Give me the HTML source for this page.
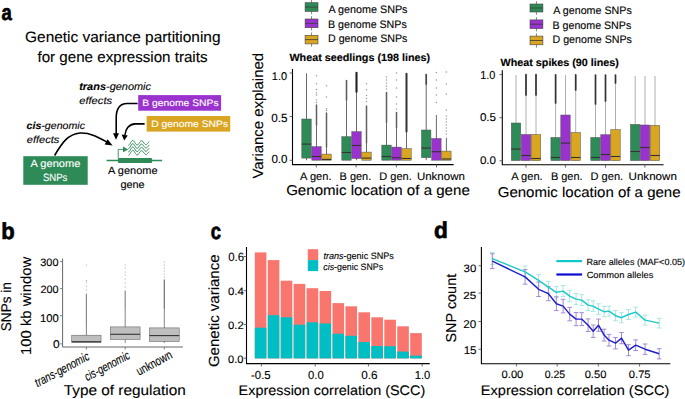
<!DOCTYPE html>
<html><head><meta charset="utf-8"><style>
html,body{margin:0;padding:0;background:#fff;width:685px;height:399px;overflow:hidden}
svg{display:block}
svg text{font-family:"Liberation Sans", sans-serif;text-rendering:geometricPrecision}
</style></head><body>
<svg width="685" height="399" viewBox="0 0 685 399">
<rect width="685" height="399" fill="#fff"/>
<text x="1.62" y="20.07" font-size="22.13" font-weight="bold" stroke="#000" stroke-width="0.7" textLength="10.28" lengthAdjust="spacingAndGlyphs">a</text>
<text x="25.12" y="42.20" font-size="15.00" stroke="#000" stroke-width="0.12" textLength="195.41" lengthAdjust="spacingAndGlyphs">Genetic variance partitioning</text>
<text x="37.48" y="62.20" font-size="15.00" stroke="#000" stroke-width="0.12" textLength="170.05" lengthAdjust="spacingAndGlyphs">for gene expression traits</text>
<text x="79.22" y="89.60" font-size="10.60" font-style="italic" stroke="#000" stroke-width="0.12" textLength="71.80" lengthAdjust="spacingAndGlyphs"><tspan font-weight="bold">trans</tspan>-genomic</text>
<text x="79.20" y="103.60" font-size="10.20" font-style="italic" stroke="#000" stroke-width="0.12" textLength="32.90" lengthAdjust="spacingAndGlyphs">effects</text>
<text x="26.57" y="129.30" font-size="10.20" font-style="italic" stroke="#000" stroke-width="0.12" textLength="58.45" lengthAdjust="spacingAndGlyphs"><tspan font-weight="bold">cis</tspan>-genomic</text>
<text x="26.77" y="143.40" font-size="10.20" font-style="italic" stroke="#000" stroke-width="0.12" textLength="32.59" lengthAdjust="spacingAndGlyphs">effects</text>
<text x="108.03" y="173.80" font-size="10.60" stroke="#000" stroke-width="0.12" textLength="49.50" lengthAdjust="spacingAndGlyphs">A genome</text>
<text x="120.40" y="187.50" font-size="10.60" stroke="#000" stroke-width="0.12" textLength="24.31" lengthAdjust="spacingAndGlyphs">gene</text>
<rect x="138.2" y="95.1" width="82.9" height="15.6" fill="#9a32cd"/>
<rect x="146.7" y="116" width="83.5" height="15.6" fill="#daa520"/>
<rect x="23.3" y="156.2" width="64.4" height="28.6" fill="#2e8b57"/>
<text x="142.30" y="105.80" font-size="9.50" fill="#fff" stroke="#fff" stroke-width="0.12" textLength="76.30" lengthAdjust="spacingAndGlyphs">B genome SNPs</text>
<text x="151.30" y="127.20" font-size="9.50" fill="#fff" stroke="#fff" stroke-width="0.12" textLength="76.75" lengthAdjust="spacingAndGlyphs">D genome SNPs</text>
<text x="30.55" y="166.60" font-size="10.60" fill="#fff" stroke="#fff" stroke-width="0.12" textLength="49.75" lengthAdjust="spacingAndGlyphs">A genome</text>
<text x="42.88" y="180.80" font-size="10.60" fill="#fff" stroke="#fff" stroke-width="0.12" textLength="24.40" lengthAdjust="spacingAndGlyphs">SNPs</text>
<line x1="106.6" y1="160.5" x2="162.1" y2="160.5" stroke="#2e8b57" stroke-width="1.3"/>
<rect x="117.9" y="157.9" width="34.2" height="5" rx="0.8" fill="#2e8b57"/>
<path d="M118.2 158 V149.4 H123.5" fill="none" stroke="#2e8b57" stroke-width="0.9"/>
<path d="M123 146.6 L128.2 149.4 L123 152.2 Z" fill="#2e8b57"/>
<polyline points="128.3,145.39 128.9,145.21 129.5,144.60 130.1,143.68 130.7,142.62 131.3,141.62 131.9,140.84 132.5,140.44 133.1,140.46 133.7,140.90 134.3,141.68 134.9,142.63 135.5,143.60 136.1,144.40 136.7,144.90 137.3,145.01 137.9,144.72 138.5,144.10 139.1,143.25 139.7,142.35 140.3,141.55 140.9,140.99 141.5,140.77 142.1,140.92 142.7,141.40 143.3,142.12 143.9,142.94 144.5,143.71 145.1,144.31 145.7,144.61 146.3,144.59 146.9,144.24 147.5,143.65 148.1,142.92 148.7,142.20 149.3,141.60" fill="none" stroke="#2e8b57" stroke-width="1.0" stroke-linejoin="round"/>
<polyline points="128.3,148.69 128.9,148.51 129.5,147.90 130.1,146.98 130.7,145.92 131.3,144.92 131.9,144.14 132.5,143.74 133.1,143.76 133.7,144.20 134.3,144.98 134.9,145.93 135.5,146.90 136.1,147.70 136.7,148.20 137.3,148.31 137.9,148.02 138.5,147.40 139.1,146.55 139.7,145.65 140.3,144.85 140.9,144.29 141.5,144.07 142.1,144.22 142.7,144.70 143.3,145.42 143.9,146.24 144.5,147.01 145.1,147.61 145.7,147.91 146.3,147.89 146.9,147.54 147.5,146.95 148.1,146.22 148.7,145.50 149.3,144.90" fill="none" stroke="#2e8b57" stroke-width="1.0" stroke-linejoin="round"/>
<polyline points="128.3,151.99 128.9,151.81 129.5,151.20 130.1,150.28 130.7,149.22 131.3,148.22 131.9,147.44 132.5,147.04 133.1,147.06 133.7,147.50 134.3,148.28 134.9,149.23 135.5,150.20 136.1,151.00 136.7,151.50 137.3,151.61 137.9,151.32 138.5,150.70 139.1,149.85 139.7,148.95 140.3,148.15 140.9,147.59 141.5,147.37 142.1,147.52 142.7,148.00 143.3,148.72 143.9,149.54 144.5,150.31 145.1,150.91 145.7,151.21 146.3,151.19 146.9,150.84 147.5,150.25 148.1,149.52 148.7,148.80 149.3,148.20" fill="none" stroke="#2e8b57" stroke-width="1.0" stroke-linejoin="round"/>
<polyline points="128.3,155.29 128.9,155.11 129.5,154.50 130.1,153.58 130.7,152.52 131.3,151.52 131.9,150.74 132.5,150.34 133.1,150.36 133.7,150.80 134.3,151.58 134.9,152.53 135.5,153.50 136.1,154.30 136.7,154.80 137.3,154.91 137.9,154.62 138.5,154.00 139.1,153.15 139.7,152.25 140.3,151.45 140.9,150.89 141.5,150.67 142.1,150.82 142.7,151.30 143.3,152.02 143.9,152.84 144.5,153.61 145.1,154.21 145.7,154.51 146.3,154.49 146.9,154.14 147.5,153.55 148.1,152.82 148.7,152.10 149.3,151.50" fill="none" stroke="#2e8b57" stroke-width="1.0" stroke-linejoin="round"/>
<path d="M54.6 155.5 C62 143 68 134 80 133 C90 132.5 98 137 107 142" fill="none" stroke="#000" stroke-width="1.6"/>
<path d="M112.6 145.6 L104.6 144.6 L107.6 139.2 Z" fill="#000"/>
<path d="M137.6 103.5 H127 C119 103.8 116.2 110 116.2 118 V134" fill="none" stroke="#000" stroke-width="1.6"/>
<path d="M116 139.8 L113 133.2 L119 133.2 Z" fill="#000"/>
<path d="M144.6 123.9 H135 C129 124.2 125.4 129 125 135" fill="none" stroke="#000" stroke-width="1.6"/>
<path d="M124.2 140.4 L121.6 134.6 L127.8 135.4 Z" fill="#000"/>
<line x1="311.55" y1="-0.09999999999999964" x2="311.55" y2="14.2" stroke="#555" stroke-width="0.7"/>
<rect x="305.1" y="2.7" width="12.9" height="8.7" fill="#2e8b57" stroke="#444" stroke-width="0.6"/>
<line x1="305.1" y1="7.1" x2="318" y2="7.1" stroke="#3a3a3a" stroke-width="0.8"/>
<line x1="311.55" y1="16.2" x2="311.55" y2="30.5" stroke="#555" stroke-width="0.7"/>
<rect x="305.1" y="19.0" width="12.9" height="8.7" fill="#9a32cd" stroke="#444" stroke-width="0.6"/>
<line x1="305.1" y1="23.4" x2="318" y2="23.4" stroke="#3a3a3a" stroke-width="0.8"/>
<line x1="311.55" y1="32.5" x2="311.55" y2="46.699999999999996" stroke="#555" stroke-width="0.7"/>
<rect x="305.1" y="35.3" width="12.9" height="8.6" fill="#daa520" stroke="#444" stroke-width="0.6"/>
<line x1="305.1" y1="39.6" x2="318" y2="39.6" stroke="#3a3a3a" stroke-width="0.8"/>
<line x1="536.45" y1="1.2000000000000002" x2="536.45" y2="14.8" stroke="#555" stroke-width="0.7"/>
<rect x="530" y="4.0" width="12.9" height="8.0" fill="#2e8b57" stroke="#444" stroke-width="0.6"/>
<line x1="530" y1="8.0" x2="542.9" y2="8.0" stroke="#3a3a3a" stroke-width="0.8"/>
<line x1="536.45" y1="17.099999999999998" x2="536.45" y2="31.400000000000002" stroke="#555" stroke-width="0.7"/>
<rect x="530" y="19.9" width="12.9" height="8.7" fill="#9a32cd" stroke="#444" stroke-width="0.6"/>
<line x1="530" y1="24.2" x2="542.9" y2="24.2" stroke="#3a3a3a" stroke-width="0.8"/>
<line x1="536.45" y1="33.300000000000004" x2="536.45" y2="47.599999999999994" stroke="#555" stroke-width="0.7"/>
<rect x="530" y="36.1" width="12.9" height="8.7" fill="#daa520" stroke="#444" stroke-width="0.6"/>
<line x1="530" y1="40.5" x2="542.9" y2="40.5" stroke="#3a3a3a" stroke-width="0.8"/>
<text x="328.52" y="12.90" font-size="10.90" stroke="#000" stroke-width="0.12" textLength="78.95" lengthAdjust="spacingAndGlyphs">A genome SNPs</text>
<text x="328.00" y="27.60" font-size="10.90" stroke="#000" stroke-width="0.12" textLength="78.75" lengthAdjust="spacingAndGlyphs">B genome SNPs</text>
<text x="328.02" y="42.00" font-size="10.90" stroke="#000" stroke-width="0.12" textLength="79.41" lengthAdjust="spacingAndGlyphs">D genome SNPs</text>
<text x="553.35" y="14.00" font-size="10.90" stroke="#000" stroke-width="0.12" textLength="78.40" lengthAdjust="spacingAndGlyphs">A genome SNPs</text>
<text x="552.50" y="28.60" font-size="10.90" stroke="#000" stroke-width="0.12" textLength="78.75" lengthAdjust="spacingAndGlyphs">B genome SNPs</text>
<text x="552.52" y="42.90" font-size="10.90" stroke="#000" stroke-width="0.12" textLength="79.41" lengthAdjust="spacingAndGlyphs">D genome SNPs</text>
<path d="M292.5 69 V164.6 H453.6" fill="none" stroke="#000" stroke-width="1.1"/>
<line x1="289.7" y1="73.0" x2="292.5" y2="73.0" stroke="#555" stroke-width="0.9"/>
<line x1="289.7" y1="116.5" x2="292.5" y2="116.5" stroke="#555" stroke-width="0.9"/>
<line x1="289.7" y1="160.3" x2="292.5" y2="160.3" stroke="#555" stroke-width="0.9"/>
<line x1="316.3" y1="164.6" x2="316.3" y2="167.4" stroke="#555" stroke-width="0.9"/>
<line x1="356.1" y1="164.6" x2="356.1" y2="167.4" stroke="#555" stroke-width="0.9"/>
<line x1="396.4" y1="164.6" x2="396.4" y2="167.4" stroke="#555" stroke-width="0.9"/>
<line x1="436.5" y1="164.6" x2="436.5" y2="167.4" stroke="#555" stroke-width="0.9"/>
<text x="289.43" y="60.70" font-size="10.50" font-weight="bold" stroke="#000" stroke-width="0.15" textLength="140.70" lengthAdjust="spacingAndGlyphs">Wheat seedlings (198 lines)</text>
<text x="271.80" y="80.03" font-size="11.37" stroke="#000" stroke-width="0.12" textLength="15.27" lengthAdjust="spacingAndGlyphs">1.0</text>
<text x="271.23" y="121.75" font-size="11.80" stroke="#000" stroke-width="0.12" textLength="16.31" lengthAdjust="spacingAndGlyphs">0.5</text>
<text x="271.38" y="162.75" font-size="11.80" stroke="#000" stroke-width="0.12" textLength="16.20" lengthAdjust="spacingAndGlyphs">0.0</text>
<text x="300.00" y="180.00" font-size="11.00" stroke="#000" stroke-width="0.12" textLength="31.50" lengthAdjust="spacingAndGlyphs">A gen.</text>
<text x="339.55" y="180.00" font-size="11.00" stroke="#000" stroke-width="0.12" textLength="31.65" lengthAdjust="spacingAndGlyphs">B gen.</text>
<text x="379.35" y="180.00" font-size="11.00" stroke="#000" stroke-width="0.12" textLength="32.45" lengthAdjust="spacingAndGlyphs">D gen.</text>
<text x="416.90" y="180.00" font-size="11.00" stroke="#000" stroke-width="0.12" textLength="47.97" lengthAdjust="spacingAndGlyphs">Unknown</text>
<text x="286.15" y="195.30" font-size="14.20" stroke="#000" stroke-width="0.12" textLength="183.65" lengthAdjust="spacingAndGlyphs">Genomic location of a gene</text>
<text transform="translate(263.10,178.62) rotate(-90)" font-size="14.80" stroke="#000" stroke-width="0.12" textLength="125.65" lengthAdjust="spacingAndGlyphs">Variance explained</text>
<line x1="306.5" y1="73.3" x2="306.5" y2="160.2" stroke="#444" stroke-width="0.8"/>
<rect x="301.80" y="119" width="9.4" height="39.10" fill="#2e8b57" stroke="#505050" stroke-width="0.5"/>
<line x1="301.80" y1="144.1" x2="311.20" y2="144.1" stroke="#333" stroke-width="1.1"/>
<line x1="316.5" y1="125" x2="316.5" y2="160.2" stroke="#444" stroke-width="0.8"/>
<line x1="316.5" y1="105" x2="316.5" y2="125" stroke="#606060" stroke-width="1.5" stroke-linecap="round"/>
<circle cx="316.5" cy="75.8" r="0.75" fill="#000" fill-opacity="0.4"/>
<circle cx="316.5" cy="83.8" r="0.75" fill="#000" fill-opacity="0.4"/>
<circle cx="316.5" cy="89.4" r="0.75" fill="#000" fill-opacity="0.4"/>
<circle cx="316.5" cy="92.9" r="0.75" fill="#000" fill-opacity="0.4"/>
<circle cx="316.5" cy="95.1" r="0.75" fill="#000" fill-opacity="0.4"/>
<circle cx="316.5" cy="100" r="0.75" fill="#000" fill-opacity="0.4"/>
<circle cx="316.5" cy="102.5" r="0.75" fill="#000" fill-opacity="0.4"/>
<rect x="311.80" y="146.7" width="9.4" height="13.50" fill="#9a32cd" stroke="#505050" stroke-width="0.5"/>
<line x1="311.80" y1="156.5" x2="321.20" y2="156.5" stroke="#333" stroke-width="1.1"/>
<line x1="326.5" y1="145" x2="326.5" y2="160.2" stroke="#444" stroke-width="0.8"/>
<line x1="326.5" y1="113" x2="326.5" y2="147" stroke="#606060" stroke-width="1.5" stroke-linecap="round"/>
<circle cx="326.5" cy="85.8" r="0.75" fill="#000" fill-opacity="0.4"/>
<circle cx="326.5" cy="96.9" r="0.75" fill="#000" fill-opacity="0.4"/>
<circle cx="326.5" cy="108.7" r="0.75" fill="#000" fill-opacity="0.4"/>
<circle cx="326.5" cy="110.5" r="0.75" fill="#000" fill-opacity="0.4"/>
<rect x="321.80" y="154.1" width="9.4" height="6.10" fill="#daa520" stroke="#505050" stroke-width="0.5"/>
<line x1="321.80" y1="159.4" x2="331.20" y2="159.4" stroke="#333" stroke-width="1.1"/>
<line x1="346.5" y1="100" x2="346.5" y2="160.2" stroke="#444" stroke-width="0.8"/>
<line x1="346.5" y1="80.5" x2="346.5" y2="100" stroke="#606060" stroke-width="1.6" stroke-linecap="round"/>
<rect x="341.80" y="136.7" width="9.4" height="23.50" fill="#2e8b57" stroke="#505050" stroke-width="0.5"/>
<line x1="341.80" y1="152.5" x2="351.20" y2="152.5" stroke="#333" stroke-width="1.1"/>
<line x1="356.5" y1="91.3" x2="356.5" y2="160.2" stroke="#444" stroke-width="0.8"/>
<line x1="356.5" y1="72.8" x2="356.5" y2="91.7" stroke="#222" stroke-width="2.1" stroke-linecap="round"/>
<rect x="351.80" y="131.7" width="9.4" height="26.80" fill="#9a32cd" stroke="#505050" stroke-width="0.5"/>
<line x1="351.80" y1="145.5" x2="361.20" y2="145.5" stroke="#333" stroke-width="1.1"/>
<line x1="366.5" y1="142.7" x2="366.5" y2="160.2" stroke="#444" stroke-width="0.8"/>
<line x1="366.5" y1="106" x2="366.5" y2="143" stroke="#606060" stroke-width="1.5" stroke-linecap="round"/>
<circle cx="366.5" cy="83.8" r="0.75" fill="#000" fill-opacity="0.4"/>
<circle cx="366.5" cy="89.8" r="0.75" fill="#000" fill-opacity="0.4"/>
<circle cx="366.5" cy="95.6" r="0.75" fill="#000" fill-opacity="0.4"/>
<circle cx="366.5" cy="98.5" r="0.75" fill="#000" fill-opacity="0.4"/>
<circle cx="366.5" cy="101.5" r="0.75" fill="#000" fill-opacity="0.4"/>
<rect x="361.80" y="152.1" width="9.4" height="8.10" fill="#daa520" stroke="#505050" stroke-width="0.5"/>
<line x1="361.80" y1="158.1" x2="371.20" y2="158.1" stroke="#333" stroke-width="1.1"/>
<line x1="386.5" y1="122.6" x2="386.5" y2="160.2" stroke="#444" stroke-width="0.8"/>
<line x1="386.5" y1="92.6" x2="386.5" y2="122.6" stroke="#606060" stroke-width="1.5" stroke-linecap="round"/>
<circle cx="386.5" cy="77" r="0.75" fill="#000" fill-opacity="0.4"/>
<circle cx="386.5" cy="80" r="0.75" fill="#000" fill-opacity="0.4"/>
<circle cx="386.5" cy="83" r="0.75" fill="#000" fill-opacity="0.4"/>
<circle cx="386.5" cy="86" r="0.75" fill="#000" fill-opacity="0.4"/>
<circle cx="386.5" cy="89" r="0.75" fill="#000" fill-opacity="0.4"/>
<rect x="381.80" y="145.1" width="9.4" height="15.10" fill="#2e8b57" stroke="#505050" stroke-width="0.5"/>
<line x1="381.80" y1="156.5" x2="391.20" y2="156.5" stroke="#333" stroke-width="1.1"/>
<line x1="396.5" y1="127.7" x2="396.5" y2="160.2" stroke="#444" stroke-width="0.8"/>
<line x1="396.5" y1="112.6" x2="396.5" y2="127.7" stroke="#606060" stroke-width="1.5" stroke-linecap="round"/>
<circle cx="396.5" cy="73" r="0.75" fill="#000" fill-opacity="0.4"/>
<circle cx="396.5" cy="80" r="0.75" fill="#000" fill-opacity="0.4"/>
<circle cx="396.5" cy="88" r="0.75" fill="#000" fill-opacity="0.4"/>
<circle cx="396.5" cy="97" r="0.75" fill="#000" fill-opacity="0.4"/>
<circle cx="396.5" cy="104" r="0.75" fill="#000" fill-opacity="0.4"/>
<circle cx="396.5" cy="109" r="0.75" fill="#000" fill-opacity="0.4"/>
<rect x="391.80" y="147.1" width="9.4" height="13.10" fill="#9a32cd" stroke="#505050" stroke-width="0.5"/>
<line x1="391.80" y1="157.7" x2="401.20" y2="157.7" stroke="#333" stroke-width="1.1"/>
<line x1="406.5" y1="131.4" x2="406.5" y2="160.2" stroke="#444" stroke-width="0.8"/>
<line x1="406.5" y1="73.8" x2="406.5" y2="131.4" stroke="#333" stroke-width="2.0" stroke-linecap="round"/>
<rect x="401.80" y="148.7" width="9.4" height="11.50" fill="#daa520" stroke="#505050" stroke-width="0.5"/>
<line x1="401.80" y1="158.5" x2="411.20" y2="158.5" stroke="#333" stroke-width="1.1"/>
<line x1="426.2" y1="84" x2="426.2" y2="160.2" stroke="#444" stroke-width="0.8"/>
<line x1="426.2" y1="74.5" x2="426.2" y2="84" stroke="#444" stroke-width="1.7" stroke-linecap="round"/>
<rect x="421.50" y="130" width="9.4" height="27.70" fill="#2e8b57" stroke="#505050" stroke-width="0.5"/>
<line x1="421.50" y1="148.1" x2="430.90" y2="148.1" stroke="#333" stroke-width="1.1"/>
<line x1="436.4" y1="115" x2="436.4" y2="160.2" stroke="#444" stroke-width="0.8"/>
<circle cx="436.4" cy="72.5" r="0.75" fill="#000" fill-opacity="0.4"/>
<circle cx="436.4" cy="80" r="0.75" fill="#000" fill-opacity="0.4"/>
<circle cx="436.4" cy="88" r="0.75" fill="#000" fill-opacity="0.4"/>
<circle cx="436.4" cy="95" r="0.75" fill="#000" fill-opacity="0.4"/>
<circle cx="436.4" cy="102.6" r="0.75" fill="#000" fill-opacity="0.4"/>
<rect x="431.70" y="138.5" width="9.4" height="21.70" fill="#9a32cd" stroke="#505050" stroke-width="0.5"/>
<line x1="431.70" y1="151.7" x2="441.10" y2="151.7" stroke="#333" stroke-width="1.1"/>
<line x1="446.4" y1="137.7" x2="446.4" y2="160.2" stroke="#444" stroke-width="0.8"/>
<circle cx="446.4" cy="72" r="0.75" fill="#000" fill-opacity="0.4"/>
<circle cx="446.4" cy="84" r="0.75" fill="#000" fill-opacity="0.4"/>
<circle cx="446.4" cy="94" r="0.75" fill="#000" fill-opacity="0.4"/>
<circle cx="446.4" cy="110" r="0.75" fill="#000" fill-opacity="0.4"/>
<circle cx="446.4" cy="116" r="0.75" fill="#000" fill-opacity="0.4"/>
<circle cx="446.4" cy="119" r="0.75" fill="#000" fill-opacity="0.4"/>
<circle cx="446.4" cy="122" r="0.75" fill="#000" fill-opacity="0.4"/>
<circle cx="446.4" cy="125" r="0.75" fill="#000" fill-opacity="0.4"/>
<circle cx="446.4" cy="128" r="0.75" fill="#000" fill-opacity="0.4"/>
<circle cx="446.4" cy="131" r="0.75" fill="#000" fill-opacity="0.4"/>
<circle cx="446.4" cy="134" r="0.75" fill="#000" fill-opacity="0.4"/>
<rect x="441.70" y="151.1" width="9.4" height="9.10" fill="#daa520" stroke="#505050" stroke-width="0.5"/>
<line x1="441.70" y1="159" x2="451.10" y2="159" stroke="#333" stroke-width="1.1"/>
<path d="M502.3 70.3 V164.8 H663.6" fill="none" stroke="#000" stroke-width="1.1"/>
<line x1="499.5" y1="74.6" x2="502.3" y2="74.6" stroke="#555" stroke-width="0.9"/>
<line x1="499.5" y1="117.7" x2="502.3" y2="117.7" stroke="#555" stroke-width="0.9"/>
<line x1="499.5" y1="160.8" x2="502.3" y2="160.8" stroke="#555" stroke-width="0.9"/>
<line x1="526" y1="164.8" x2="526" y2="167.60000000000002" stroke="#555" stroke-width="0.9"/>
<line x1="565.4" y1="164.8" x2="565.4" y2="167.60000000000002" stroke="#555" stroke-width="0.9"/>
<line x1="605.5" y1="164.8" x2="605.5" y2="167.60000000000002" stroke="#555" stroke-width="0.9"/>
<line x1="644.9" y1="164.8" x2="644.9" y2="167.60000000000002" stroke="#555" stroke-width="0.9"/>
<text x="500.60" y="66.00" font-size="10.50" font-weight="bold" stroke="#000" stroke-width="0.15" textLength="118.30" lengthAdjust="spacingAndGlyphs">Wheat spikes (90 lines)</text>
<text x="480.27" y="79.00" font-size="11.58" stroke="#000" stroke-width="0.12" textLength="15.16" lengthAdjust="spacingAndGlyphs">1.0</text>
<text x="479.90" y="121.47" font-size="11.37" stroke="#000" stroke-width="0.12" textLength="16.16" lengthAdjust="spacingAndGlyphs">0.5</text>
<text x="479.90" y="163.93" font-size="11.02" stroke="#000" stroke-width="0.12" textLength="16.16" lengthAdjust="spacingAndGlyphs">0.0</text>
<text x="511.20" y="179.50" font-size="11.00" stroke="#000" stroke-width="0.12" textLength="31.50" lengthAdjust="spacingAndGlyphs">A gen.</text>
<text x="550.88" y="179.50" font-size="11.00" stroke="#000" stroke-width="0.12" textLength="31.65" lengthAdjust="spacingAndGlyphs">B gen.</text>
<text x="590.55" y="179.50" font-size="11.00" stroke="#000" stroke-width="0.12" textLength="32.65" lengthAdjust="spacingAndGlyphs">D gen.</text>
<text x="628.52" y="179.50" font-size="11.00" stroke="#000" stroke-width="0.12" textLength="48.32" lengthAdjust="spacingAndGlyphs">Unknown</text>
<text x="497.73" y="197.20" font-size="14.20" stroke="#000" stroke-width="0.12" textLength="182.85" lengthAdjust="spacingAndGlyphs">Genomic location of a gene</text>
<line x1="516" y1="75" x2="516" y2="160.6" stroke="#9c9c9c" stroke-width="0.8"/>
<rect x="511.30" y="123" width="9.4" height="37.60" fill="#2e8b57" stroke="#505050" stroke-width="0.5"/>
<line x1="511.30" y1="149.1" x2="520.70" y2="149.1" stroke="#333" stroke-width="1.1"/>
<line x1="526" y1="75" x2="526" y2="160.6" stroke="#9c9c9c" stroke-width="0.8"/>
<line x1="526" y1="74.6" x2="526" y2="95" stroke="#333" stroke-width="1.7" stroke-linecap="round"/>
<rect x="521.30" y="134.5" width="9.4" height="26.10" fill="#9a32cd" stroke="#505050" stroke-width="0.5"/>
<line x1="521.30" y1="155.5" x2="530.70" y2="155.5" stroke="#333" stroke-width="1.1"/>
<line x1="536" y1="75" x2="536" y2="160.6" stroke="#9c9c9c" stroke-width="0.8"/>
<line x1="536" y1="74.6" x2="536" y2="95" stroke="#333" stroke-width="1.7" stroke-linecap="round"/>
<rect x="531.30" y="134.5" width="9.4" height="26.10" fill="#daa520" stroke="#505050" stroke-width="0.5"/>
<line x1="531.30" y1="158.5" x2="540.70" y2="158.5" stroke="#333" stroke-width="1.1"/>
<line x1="555.6" y1="75" x2="555.6" y2="160.6" stroke="#9c9c9c" stroke-width="0.8"/>
<line x1="555.6" y1="74.8" x2="555.6" y2="103" stroke="#333" stroke-width="1.7" stroke-linecap="round"/>
<rect x="550.90" y="137.5" width="9.4" height="23.10" fill="#2e8b57" stroke="#505050" stroke-width="0.5"/>
<line x1="550.90" y1="157.5" x2="560.30" y2="157.5" stroke="#333" stroke-width="1.1"/>
<line x1="565.5" y1="75" x2="565.5" y2="160.6" stroke="#9c9c9c" stroke-width="0.8"/>
<rect x="560.80" y="115" width="9.4" height="45.60" fill="#9a32cd" stroke="#505050" stroke-width="0.5"/>
<line x1="560.80" y1="143.1" x2="570.20" y2="143.1" stroke="#333" stroke-width="1.1"/>
<line x1="575.7" y1="75" x2="575.7" y2="160.6" stroke="#9c9c9c" stroke-width="0.8"/>
<line x1="575.7" y1="74.8" x2="575.7" y2="89.9" stroke="#333" stroke-width="1.7" stroke-linecap="round"/>
<rect x="571.00" y="132.5" width="9.4" height="28.10" fill="#daa520" stroke="#505050" stroke-width="0.5"/>
<line x1="571.00" y1="157.5" x2="580.40" y2="157.5" stroke="#333" stroke-width="1.1"/>
<line x1="595.5" y1="75" x2="595.5" y2="160.6" stroke="#9c9c9c" stroke-width="0.8"/>
<line x1="595.5" y1="75" x2="595.5" y2="104" stroke="#333" stroke-width="1.7" stroke-linecap="round"/>
<rect x="590.80" y="137.5" width="9.4" height="23.10" fill="#2e8b57" stroke="#505050" stroke-width="0.5"/>
<line x1="590.80" y1="157.5" x2="600.20" y2="157.5" stroke="#333" stroke-width="1.1"/>
<line x1="605.5" y1="75" x2="605.5" y2="160.6" stroke="#9c9c9c" stroke-width="0.8"/>
<line x1="605.5" y1="75" x2="605.5" y2="101" stroke="#333" stroke-width="1.7" stroke-linecap="round"/>
<rect x="600.80" y="134.7" width="9.4" height="25.90" fill="#9a32cd" stroke="#505050" stroke-width="0.5"/>
<line x1="600.80" y1="154.5" x2="610.20" y2="154.5" stroke="#333" stroke-width="1.1"/>
<line x1="615.5" y1="75" x2="615.5" y2="160.6" stroke="#9c9c9c" stroke-width="0.8"/>
<line x1="615.5" y1="75" x2="615.5" y2="83" stroke="#333" stroke-width="1.7" stroke-linecap="round"/>
<rect x="610.80" y="129.6" width="9.4" height="31.00" fill="#daa520" stroke="#505050" stroke-width="0.5"/>
<line x1="610.80" y1="156.5" x2="620.20" y2="156.5" stroke="#333" stroke-width="1.1"/>
<line x1="635.2" y1="76" x2="635.2" y2="160.6" stroke="#9c9c9c" stroke-width="0.8"/>
<rect x="630.50" y="124.4" width="9.4" height="36.20" fill="#2e8b57" stroke="#505050" stroke-width="0.5"/>
<line x1="630.50" y1="151.5" x2="639.90" y2="151.5" stroke="#333" stroke-width="1.1"/>
<line x1="645" y1="76" x2="645" y2="160.6" stroke="#9c9c9c" stroke-width="0.8"/>
<rect x="640.30" y="125" width="9.4" height="35.60" fill="#9a32cd" stroke="#505050" stroke-width="0.5"/>
<line x1="640.30" y1="147.5" x2="649.70" y2="147.5" stroke="#333" stroke-width="1.1"/>
<line x1="655" y1="76" x2="655" y2="160.6" stroke="#9c9c9c" stroke-width="0.8"/>
<rect x="650.30" y="125.4" width="9.4" height="35.20" fill="#daa520" stroke="#505050" stroke-width="0.5"/>
<line x1="650.30" y1="155.5" x2="659.70" y2="155.5" stroke="#333" stroke-width="1.1"/>
<text x="1.35" y="238.65" font-size="23.04" font-weight="bold" stroke="#000" stroke-width="0.7" textLength="13.42" lengthAdjust="spacingAndGlyphs">b</text>
<text transform="translate(10.80,331.18) rotate(-90)" font-size="14.10" stroke="#000" stroke-width="0.12" textLength="48.93" lengthAdjust="spacingAndGlyphs">SNPs in</text>
<text transform="translate(31.30,354.98) rotate(-90)" font-size="14.50" stroke="#000" stroke-width="0.12" textLength="98.10" lengthAdjust="spacingAndGlyphs">100 kb window</text>
<text x="40.25" y="266.00" font-size="10.67" stroke="#000" stroke-width="0.12" textLength="18.20" lengthAdjust="spacingAndGlyphs">300</text>
<text x="40.40" y="293.02" font-size="10.67" stroke="#000" stroke-width="0.12" textLength="18.15" lengthAdjust="spacingAndGlyphs">200</text>
<text x="40.10" y="321.88" font-size="11.37" stroke="#000" stroke-width="0.12" textLength="18.77" lengthAdjust="spacingAndGlyphs">100</text>
<text x="52.90" y="348.38" font-size="11.37" stroke="#000" stroke-width="0.12" textLength="6.66" lengthAdjust="spacingAndGlyphs">0</text>
<text x="63.70" y="395.40" font-size="14.25" stroke="#000" stroke-width="0.12" textLength="122.16" lengthAdjust="spacingAndGlyphs">Type of regulation</text>
<path d="M62.6 258.5 V347 H182.9" fill="none" stroke="#666" stroke-width="1.0"/>
<line x1="60.0" y1="261.5" x2="62.6" y2="261.5" stroke="#777" stroke-width="0.9"/>
<line x1="60.0" y1="288.6" x2="62.6" y2="288.6" stroke="#777" stroke-width="0.9"/>
<line x1="60.0" y1="315.7" x2="62.6" y2="315.7" stroke="#777" stroke-width="0.9"/>
<line x1="60.0" y1="343.9" x2="62.6" y2="343.9" stroke="#777" stroke-width="0.9"/>
<line x1="86.4" y1="347" x2="86.4" y2="349.6" stroke="#777" stroke-width="0.9"/>
<line x1="125.2" y1="347" x2="125.2" y2="349.6" stroke="#777" stroke-width="0.9"/>
<line x1="164.3" y1="347" x2="164.3" y2="349.6" stroke="#777" stroke-width="0.9"/>
<line x1="86.4" y1="326" x2="86.4" y2="342.6" stroke="#666" stroke-width="0.8"/>
<line x1="86.4" y1="294" x2="86.4" y2="326" stroke="#8a8a8a" stroke-width="1.2" stroke-linecap="round"/>
<circle cx="86.4" cy="265" r="0.6" fill="#000" fill-opacity="0.4"/>
<circle cx="86.4" cy="280.5" r="0.6" fill="#000" fill-opacity="0.4"/>
<circle cx="86.4" cy="282" r="0.6" fill="#000" fill-opacity="0.4"/>
<circle cx="86.4" cy="286" r="0.6" fill="#000" fill-opacity="0.4"/>
<circle cx="86.4" cy="290" r="0.6" fill="#000" fill-opacity="0.4"/>
<rect x="71.75" y="335.2" width="29.3" height="7.40" fill="#bebebe" stroke="#555" stroke-width="0.5"/>
<line x1="71.75" y1="341.7" x2="101.05" y2="341.7" stroke="#333" stroke-width="1.1"/>
<line x1="125.2" y1="308" x2="125.2" y2="343" stroke="#666" stroke-width="0.8"/>
<line x1="125.2" y1="291" x2="125.2" y2="308" stroke="#8a8a8a" stroke-width="1.2" stroke-linecap="round"/>
<circle cx="125.2" cy="265" r="0.6" fill="#000" fill-opacity="0.4"/>
<circle cx="125.2" cy="268" r="0.6" fill="#000" fill-opacity="0.4"/>
<circle cx="125.2" cy="272" r="0.6" fill="#000" fill-opacity="0.4"/>
<circle cx="125.2" cy="275" r="0.6" fill="#000" fill-opacity="0.4"/>
<circle cx="125.2" cy="279" r="0.6" fill="#000" fill-opacity="0.4"/>
<circle cx="125.2" cy="283" r="0.6" fill="#000" fill-opacity="0.4"/>
<circle cx="125.2" cy="287" r="0.6" fill="#000" fill-opacity="0.4"/>
<rect x="110.30" y="326.9" width="29.8" height="12.60" fill="#bebebe" stroke="#555" stroke-width="0.5"/>
<line x1="110.30" y1="334.3" x2="140.10" y2="334.3" stroke="#333" stroke-width="1.1"/>
<line x1="164.3" y1="308" x2="164.3" y2="343" stroke="#666" stroke-width="0.8"/>
<line x1="164.3" y1="280" x2="164.3" y2="308" stroke="#7a7a7a" stroke-width="1.3" stroke-linecap="round"/>
<circle cx="164.3" cy="261.8" r="0.6" fill="#000" fill-opacity="0.4"/>
<circle cx="164.3" cy="265" r="0.6" fill="#000" fill-opacity="0.4"/>
<circle cx="164.3" cy="268" r="0.6" fill="#000" fill-opacity="0.4"/>
<circle cx="164.3" cy="271" r="0.6" fill="#000" fill-opacity="0.4"/>
<circle cx="164.3" cy="274" r="0.6" fill="#000" fill-opacity="0.4"/>
<circle cx="164.3" cy="277" r="0.6" fill="#000" fill-opacity="0.4"/>
<rect x="149.40" y="327.9" width="29.8" height="13.60" fill="#bebebe" stroke="#555" stroke-width="0.5"/>
<line x1="149.40" y1="335.6" x2="179.20" y2="335.6" stroke="#333" stroke-width="1.1"/>
<text transform="translate(90.3,359.15) rotate(-28)" font-size="12.5" text-anchor="end" font-style="italic" stroke="#000" stroke-width="0.12" textLength="59.665" lengthAdjust="spacingAndGlyphs">trans-genomic</text>
<text transform="translate(130.8,358.1) rotate(-28)" font-size="12.5" text-anchor="end" font-style="italic" stroke="#000" stroke-width="0.12" textLength="49.366" lengthAdjust="spacingAndGlyphs">cis-genomic</text>
<text transform="translate(173.175,357.575) rotate(-28)" font-size="12.5" text-anchor="end" stroke="#000" stroke-width="0.12" textLength="38.661" lengthAdjust="spacingAndGlyphs">unknown</text>
<text x="210.68" y="238.75" font-size="22.98" font-weight="bold" stroke="#000" stroke-width="0.7" textLength="10.26" lengthAdjust="spacingAndGlyphs">c</text>
<text transform="translate(219.40,367.05) rotate(-90)" font-size="14.70" stroke="#000" stroke-width="0.12" textLength="112.61" lengthAdjust="spacingAndGlyphs">Genetic variance</text>
<text x="228.15" y="260.65" font-size="11.94" stroke="#000" stroke-width="0.12" textLength="15.89" lengthAdjust="spacingAndGlyphs">0.6</text>
<text x="228.03" y="294.82" font-size="10.67" stroke="#000" stroke-width="0.12" textLength="15.89" lengthAdjust="spacingAndGlyphs">0.4</text>
<text x="228.00" y="328.98" font-size="10.81" stroke="#000" stroke-width="0.12" textLength="15.65" lengthAdjust="spacingAndGlyphs">0.2</text>
<text x="228.12" y="363.12" font-size="10.80" stroke="#000" stroke-width="0.12" textLength="15.39" lengthAdjust="spacingAndGlyphs">0.0</text>
<text x="251.05" y="378.50" font-size="11.58" stroke="#000" stroke-width="0.12" textLength="19.54" lengthAdjust="spacingAndGlyphs">-0.5</text>
<text x="308.07" y="378.50" font-size="11.58" stroke="#000" stroke-width="0.12" textLength="15.70" lengthAdjust="spacingAndGlyphs">0.0</text>
<text x="361.23" y="378.50" font-size="11.58" stroke="#000" stroke-width="0.12" textLength="16.31" lengthAdjust="spacingAndGlyphs">0.6</text>
<text x="414.68" y="378.50" font-size="11.58" stroke="#000" stroke-width="0.12" textLength="15.58" lengthAdjust="spacingAndGlyphs">1.0</text>
<text x="323.38" y="258.60" font-size="9.30" stroke="#000" stroke-width="0.12" textLength="70.45" lengthAdjust="spacingAndGlyphs"><tspan font-style="italic">trans</tspan>-genic SNPs</text>
<text x="323.30" y="270.00" font-size="9.30" stroke="#000" stroke-width="0.12" textLength="59.75" lengthAdjust="spacingAndGlyphs"><tspan font-style="italic">cis</tspan>-genic SNPs</text>
<text x="238.57" y="395.30" font-size="13.80" stroke="#000" stroke-width="0.12" textLength="186.66" lengthAdjust="spacingAndGlyphs">Expression correlation (SCC)</text>
<rect x="254.80" y="252.4" width="11.6" height="106.00" fill="#f8766d"/>
<rect x="254.80" y="327.7" width="11.6" height="30.70" fill="#00bfc4"/>
<rect x="267.75" y="260.1" width="11.6" height="98.30" fill="#f8766d"/>
<rect x="267.75" y="315.2" width="11.6" height="43.20" fill="#00bfc4"/>
<rect x="280.70" y="280.7" width="11.6" height="77.70" fill="#f8766d"/>
<rect x="280.70" y="317.3" width="11.6" height="41.10" fill="#00bfc4"/>
<rect x="293.65" y="283.9" width="11.6" height="74.50" fill="#f8766d"/>
<rect x="293.65" y="324.7" width="11.6" height="33.70" fill="#00bfc4"/>
<rect x="306.60" y="288.2" width="11.6" height="70.20" fill="#f8766d"/>
<rect x="306.60" y="322.3" width="11.6" height="36.10" fill="#00bfc4"/>
<rect x="319.55" y="291" width="11.6" height="67.40" fill="#f8766d"/>
<rect x="319.55" y="323.5" width="11.6" height="34.90" fill="#00bfc4"/>
<rect x="332.50" y="303.1" width="11.6" height="55.30" fill="#f8766d"/>
<rect x="332.50" y="333.7" width="11.6" height="24.70" fill="#00bfc4"/>
<rect x="345.45" y="306.3" width="11.6" height="52.10" fill="#f8766d"/>
<rect x="345.45" y="335.8" width="11.6" height="22.60" fill="#00bfc4"/>
<rect x="358.40" y="312.3" width="11.6" height="46.10" fill="#f8766d"/>
<rect x="358.40" y="342.0" width="11.6" height="16.40" fill="#00bfc4"/>
<rect x="371.35" y="317.3" width="11.6" height="41.10" fill="#f8766d"/>
<rect x="371.35" y="346.0" width="11.6" height="12.40" fill="#00bfc4"/>
<rect x="384.30" y="319.7" width="11.6" height="38.70" fill="#f8766d"/>
<rect x="384.30" y="346.2" width="11.6" height="12.20" fill="#00bfc4"/>
<rect x="397.25" y="326.3" width="11.6" height="32.10" fill="#f8766d"/>
<rect x="397.25" y="351.6" width="11.6" height="6.80" fill="#00bfc4"/>
<rect x="410.20" y="333.1" width="11.6" height="25.30" fill="#f8766d"/>
<rect x="410.20" y="355.6" width="11.6" height="2.80" fill="#00bfc4"/>
<path d="M246.5 247.1 V363.6 H429.7" fill="none" stroke="#000" stroke-width="1.1"/>
<line x1="243.7" y1="256.5" x2="246.5" y2="256.5" stroke="#555" stroke-width="0.9"/>
<line x1="243.7" y1="290.7" x2="246.5" y2="290.7" stroke="#555" stroke-width="0.9"/>
<line x1="243.7" y1="324.6" x2="246.5" y2="324.6" stroke="#555" stroke-width="0.9"/>
<line x1="243.7" y1="358.2" x2="246.5" y2="358.2" stroke="#555" stroke-width="0.9"/>
<line x1="261.4" y1="363.6" x2="261.4" y2="366.40000000000003" stroke="#555" stroke-width="0.9"/>
<line x1="315.2" y1="363.6" x2="315.2" y2="366.40000000000003" stroke="#555" stroke-width="0.9"/>
<line x1="368.4" y1="363.6" x2="368.4" y2="366.40000000000003" stroke="#555" stroke-width="0.9"/>
<line x1="422.2" y1="363.6" x2="422.2" y2="366.40000000000003" stroke="#555" stroke-width="0.9"/>
<rect x="307.8" y="249.2" width="10.4" height="10.9" fill="#f8766d"/>
<rect x="307.8" y="260.1" width="10.4" height="11" fill="#00bfc4"/>
<text x="434.00" y="238.35" font-size="22.83" font-weight="bold" stroke="#000" stroke-width="0.7" textLength="13.85" lengthAdjust="spacingAndGlyphs">d</text>
<text transform="translate(455.80,342.50) rotate(-90)" font-size="14.40" stroke="#000" stroke-width="0.12" textLength="68.65" lengthAdjust="spacingAndGlyphs">SNP count</text>
<text x="463.55" y="272.25" font-size="10.70" stroke="#000" stroke-width="0.12" textLength="12.69" lengthAdjust="spacingAndGlyphs">30</text>
<text x="463.30" y="298.85" font-size="10.33" stroke="#000" stroke-width="0.12" textLength="12.96" lengthAdjust="spacingAndGlyphs">25</text>
<text x="463.30" y="327.75" font-size="11.24" stroke="#000" stroke-width="0.12" textLength="12.96" lengthAdjust="spacingAndGlyphs">20</text>
<text x="463.65" y="353.95" font-size="11.24" stroke="#000" stroke-width="0.12" textLength="12.93" lengthAdjust="spacingAndGlyphs">15</text>
<text x="501.60" y="378.48" font-size="10.80" stroke="#000" stroke-width="0.12" textLength="21.74" lengthAdjust="spacingAndGlyphs">0.00</text>
<text x="544.70" y="378.48" font-size="10.80" stroke="#000" stroke-width="0.12" textLength="20.44" lengthAdjust="spacingAndGlyphs">0.25</text>
<text x="584.65" y="378.48" font-size="10.80" stroke="#000" stroke-width="0.12" textLength="21.74" lengthAdjust="spacingAndGlyphs">0.50</text>
<text x="628.88" y="378.48" font-size="10.80" stroke="#000" stroke-width="0.12" textLength="21.70" lengthAdjust="spacingAndGlyphs">0.75</text>
<text x="586.50" y="265.30" font-size="9.00" stroke="#000" stroke-width="0.12" textLength="98.60" lengthAdjust="spacingAndGlyphs">Rare alleles (MAF&lt;0.05)</text>
<text x="586.65" y="277.70" font-size="9.00" stroke="#000" stroke-width="0.12" textLength="66.75" lengthAdjust="spacingAndGlyphs">Common alleles</text>
<text x="480.82" y="395.30" font-size="13.80" stroke="#000" stroke-width="0.12" textLength="188.46" lengthAdjust="spacingAndGlyphs">Expression correlation (SCC)</text>
<path d="M481.4 247.1 V363.7 H670.3" fill="none" stroke="#000" stroke-width="1.1"/>
<line x1="478.59999999999997" y1="265.8" x2="481.4" y2="265.8" stroke="#555" stroke-width="0.9"/>
<line x1="478.59999999999997" y1="293.1" x2="481.4" y2="293.1" stroke="#555" stroke-width="0.9"/>
<line x1="478.59999999999997" y1="321.5" x2="481.4" y2="321.5" stroke="#555" stroke-width="0.9"/>
<line x1="478.59999999999997" y1="349.3" x2="481.4" y2="349.3" stroke="#555" stroke-width="0.9"/>
<line x1="516.4" y1="363.7" x2="516.4" y2="366.5" stroke="#555" stroke-width="0.9"/>
<line x1="557.2" y1="363.7" x2="557.2" y2="366.5" stroke="#555" stroke-width="0.9"/>
<line x1="598.3" y1="363.7" x2="598.3" y2="366.5" stroke="#555" stroke-width="0.9"/>
<line x1="639.6" y1="363.7" x2="639.6" y2="366.5" stroke="#555" stroke-width="0.9"/>
<path d="M490.0 252.7 H494.6 M492.3 252.7 V264.5 M490.0 264.5 H494.6" fill="none" stroke="#a8e6e2" stroke-width="1.0"/>
<path d="M522.8 266.1 H527.4 M525.1 266.1 V277.7 M522.8 277.7 H527.4" fill="none" stroke="#a8e6e2" stroke-width="1.0"/>
<path d="M536.3 274.5 H540.9 M538.6 274.5 V286.1 M536.3 286.1 H540.9" fill="none" stroke="#a8e6e2" stroke-width="1.0"/>
<path d="M546.1 281.4 H550.7 M548.4 281.4 V292.8 M546.1 292.8 H550.7" fill="none" stroke="#a8e6e2" stroke-width="1.0"/>
<path d="M554.1 286.6 H558.7 M556.4 286.6 V298.0 M554.1 298.0 H558.7" fill="none" stroke="#a8e6e2" stroke-width="1.0"/>
<path d="M560.8 285.5 H565.4 M563.1 285.5 V296.7 M560.8 296.7 H565.4" fill="none" stroke="#a8e6e2" stroke-width="1.0"/>
<path d="M567.4 290.5 H572.0 M569.7 290.5 V301.7 M567.4 301.7 H572.0" fill="none" stroke="#a8e6e2" stroke-width="1.0"/>
<path d="M573.8 293.6 H578.4 M576.1 293.6 V304.6 M573.8 304.6 H578.4" fill="none" stroke="#a8e6e2" stroke-width="1.0"/>
<path d="M579.4 294.7 H584.0 M581.7 294.7 V305.5 M579.4 305.5 H584.0" fill="none" stroke="#a8e6e2" stroke-width="1.0"/>
<path d="M585.8 299.7 H590.4 M588.1 299.7 V310.5 M585.8 310.5 H590.4" fill="none" stroke="#a8e6e2" stroke-width="1.0"/>
<path d="M590.9 300.8 H595.5 M593.2 300.8 V311.4 M590.9 311.4 H595.5" fill="none" stroke="#a8e6e2" stroke-width="1.0"/>
<path d="M596.2 303.8 H600.8 M598.5 303.8 V314.4 M596.2 314.4 H600.8" fill="none" stroke="#a8e6e2" stroke-width="1.0"/>
<path d="M601.8 306.5 H606.4 M604.1 306.5 V316.9 M601.8 316.9 H606.4" fill="none" stroke="#a8e6e2" stroke-width="1.0"/>
<path d="M606.7 306.0 H611.3 M609 306.0 V316.2 M606.7 316.2 H611.3" fill="none" stroke="#a8e6e2" stroke-width="1.0"/>
<path d="M613.2 310.6 H617.8 M615.5 310.6 V320.8 M613.2 320.8 H617.8" fill="none" stroke="#a8e6e2" stroke-width="1.0"/>
<path d="M619.2 312.7 H623.8 M621.5 312.7 V322.7 M619.2 322.7 H623.8" fill="none" stroke="#a8e6e2" stroke-width="1.0"/>
<path d="M626.2 309.5 H630.8 M628.5 309.5 V319.5 M626.2 319.5 H630.8" fill="none" stroke="#a8e6e2" stroke-width="1.0"/>
<path d="M633.4 307.2 H638.0 M635.7 307.2 V317.0 M633.4 317.0 H638.0" fill="none" stroke="#a8e6e2" stroke-width="1.0"/>
<path d="M642.8 315.2 H647.4 M645.1 315.2 V325.0 M642.8 325.0 H647.4" fill="none" stroke="#a8e6e2" stroke-width="1.0"/>
<path d="M656.9 318.3 H661.5 M659.2 318.3 V327.9 M656.9 327.9 H661.5" fill="none" stroke="#a8e6e2" stroke-width="1.0"/>
<path d="M490.0 253.8 H494.6 M492.3 253.8 V268.6 M490.0 268.6 H494.6" fill="none" stroke="#a48ad6" stroke-width="1.0"/>
<path d="M522.8 269.6 H527.4 M525.1 269.6 V284.2 M522.8 284.2 H527.4" fill="none" stroke="#a48ad6" stroke-width="1.0"/>
<path d="M536.3 282.1 H540.9 M538.6 282.1 V296.5 M536.3 296.5 H540.9" fill="none" stroke="#a48ad6" stroke-width="1.0"/>
<path d="M546.1 286.7 H550.7 M548.4 286.7 V300.7 M546.1 300.7 H550.7" fill="none" stroke="#a48ad6" stroke-width="1.0"/>
<path d="M554.1 296.8 H558.7 M556.4 296.8 V310.6 M554.1 310.6 H558.7" fill="none" stroke="#a48ad6" stroke-width="1.0"/>
<path d="M560.8 299.3 H565.4 M563.1 299.3 V312.9 M560.8 312.9 H565.4" fill="none" stroke="#a48ad6" stroke-width="1.0"/>
<path d="M567.4 307.4 H572.0 M569.7 307.4 V320.8 M567.4 320.8 H572.0" fill="none" stroke="#a48ad6" stroke-width="1.0"/>
<path d="M573.8 312.5 H578.4 M576.1 312.5 V325.7 M573.8 325.7 H578.4" fill="none" stroke="#a48ad6" stroke-width="1.0"/>
<path d="M579.4 312.7 H584.0 M581.7 312.7 V325.5 M579.4 325.5 H584.0" fill="none" stroke="#a48ad6" stroke-width="1.0"/>
<path d="M585.8 318.9 H590.4 M588.1 318.9 V331.5 M585.8 331.5 H590.4" fill="none" stroke="#a48ad6" stroke-width="1.0"/>
<path d="M590.9 325.0 H595.5 M593.2 325.0 V337.4 M590.9 337.4 H595.5" fill="none" stroke="#a48ad6" stroke-width="1.0"/>
<path d="M596.2 319.1 H600.8 M598.5 319.1 V331.3 M596.2 331.3 H600.8" fill="none" stroke="#a48ad6" stroke-width="1.0"/>
<path d="M601.8 329.2 H606.4 M604.1 329.2 V341.0 M601.8 341.0 H606.4" fill="none" stroke="#a48ad6" stroke-width="1.0"/>
<path d="M606.7 334.4 H611.3 M609 334.4 V346.0 M606.7 346.0 H611.3" fill="none" stroke="#a48ad6" stroke-width="1.0"/>
<path d="M613.2 337.5 H617.8 M615.5 337.5 V348.9 M613.2 348.9 H617.8" fill="none" stroke="#a48ad6" stroke-width="1.0"/>
<path d="M619.2 332.5 H623.8 M621.5 332.5 V343.7 M619.2 343.7 H623.8" fill="none" stroke="#a48ad6" stroke-width="1.0"/>
<path d="M626.2 344.7 H630.8 M628.5 344.7 V355.7 M626.2 355.7 H630.8" fill="none" stroke="#a48ad6" stroke-width="1.0"/>
<path d="M633.4 339.9 H638.0 M635.7 339.9 V350.5 M633.4 350.5 H638.0" fill="none" stroke="#a48ad6" stroke-width="1.0"/>
<path d="M642.8 344.0 H647.4 M645.1 344.0 V354.4 M642.8 354.4 H647.4" fill="none" stroke="#a48ad6" stroke-width="1.0"/>
<path d="M656.9 348.7 H661.5 M659.2 348.7 V358.9 M656.9 358.9 H661.5" fill="none" stroke="#a48ad6" stroke-width="1.0"/>
<polyline points="492.3,258.6 525.1,271.9 538.6,280.3 548.4,287.1 556.4,292.3 563.1,291.1 569.7,296.1 576.1,299.1 581.7,300.1 588.1,305.1 593.2,306.1 598.5,309.1 604.1,311.7 609,311.1 615.5,315.7 621.5,317.7 628.5,314.5 635.7,312.1 645.1,320.1 659.2,323.1" fill="none" stroke="#1ec8c8" stroke-width="1.45" stroke-linejoin="round"/>
<polyline points="492.3,261.2 525.1,276.9 538.6,289.3 548.4,293.7 556.4,303.7 563.1,306.1 569.7,314.1 576.1,319.1 581.7,319.1 588.1,325.2 593.2,331.2 598.5,325.2 604.1,335.1 609,340.2 615.5,343.2 621.5,338.1 628.5,350.2 635.7,345.2 645.1,349.2 659.2,353.8" fill="none" stroke="#2020c8" stroke-width="1.45" stroke-linejoin="round"/>
<line x1="556.4" y1="261.1" x2="582.1" y2="261.1" stroke="#10c8c8" stroke-width="2.2"/>
<line x1="556.4" y1="274.5" x2="582.1" y2="274.5" stroke="#0a0ad0" stroke-width="2.2"/>
</svg></body></html>
